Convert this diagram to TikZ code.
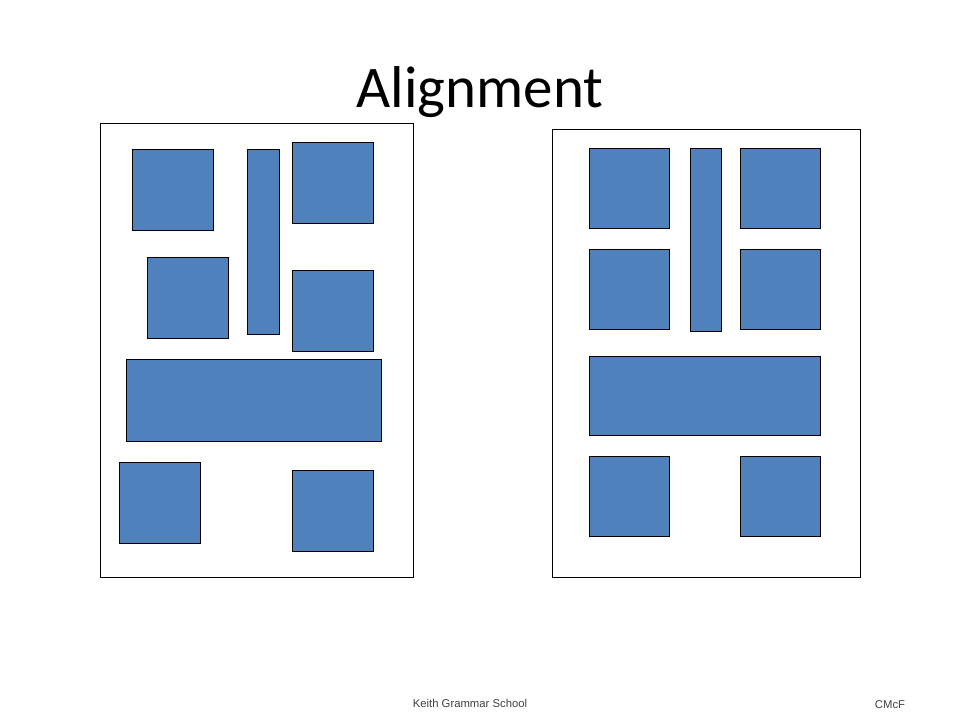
\documentclass[tikz,border=0pt]{standalone}
\usepackage{fontspec}
\setmainfont{Carlito}
\newfontfamily\footfont{Liberation Sans}
\definecolor{boxblue}{HTML}{4F81BD}
\begin{document}
\begin{tikzpicture}[x=1pt,y=-1pt,
  frame/.style={draw=black,line width=1pt,fill=white,inner sep=0pt,outer sep=0pt,anchor=north west},
  blk/.style={draw=black,line width=1pt,fill=boxblue,inner sep=0pt,outer sep=0pt,anchor=north west},
  foot/.style={font=\footfont\fontsize{11.3}{13}\selectfont,text=black!75,anchor=base,inner sep=0pt}]
\useasboundingbox (0,0) rectangle (960,720);
\node[anchor=base,inner sep=0pt,font=\fontsize{59}{66}\selectfont] (title) at (480,107) {Alignment};
% left page
\node[frame,minimum width=313pt,minimum height=454pt] (lf) at (100,123) {};
\node[blk,minimum width=81pt,minimum height=81pt] (l1) at (132,149) {};
\node[blk,minimum width=32pt,minimum height=185pt] (l2) at (247,149) {};
\node[blk,minimum width=81pt,minimum height=81pt] (l3) at (292,142) {};
\node[blk,minimum width=81pt,minimum height=81pt] (l4) at (147,257) {};
\node[blk,minimum width=81pt,minimum height=81pt] (l5) at (292,270) {};
\node[blk,minimum width=255pt,minimum height=82pt] (l6) at (126,359) {};
\node[blk,minimum width=81pt,minimum height=81pt] (l7) at (119,462) {};
\node[blk,minimum width=81pt,minimum height=81pt] (l8) at (292,470) {};
% right page
\node[frame,minimum width=308pt,minimum height=448pt] (rf) at (552,129) {};
\node[blk,minimum width=80pt,minimum height=80pt] (r1) at (589,148) {};
\node[blk,minimum width=31pt,minimum height=183pt] (r2) at (690,148) {};
\node[blk,minimum width=80pt,minimum height=80pt] (r3) at (740,148) {};
\node[blk,minimum width=80pt,minimum height=80pt] (r4) at (589,249) {};
\node[blk,minimum width=80pt,minimum height=80pt] (r5) at (740,249) {};
\node[blk,minimum width=231pt,minimum height=79pt] (r6) at (589,356) {};
\node[blk,minimum width=80pt,minimum height=80pt] (r7) at (589,456) {};
\node[blk,minimum width=80pt,minimum height=80pt] (r8) at (740,456) {};
% footer
\node[foot] (school) at (470,707) {Keith Grammar School};
\node[foot] (cmcf) at (890,708) {CMcF};
\end{tikzpicture}
\end{document}
